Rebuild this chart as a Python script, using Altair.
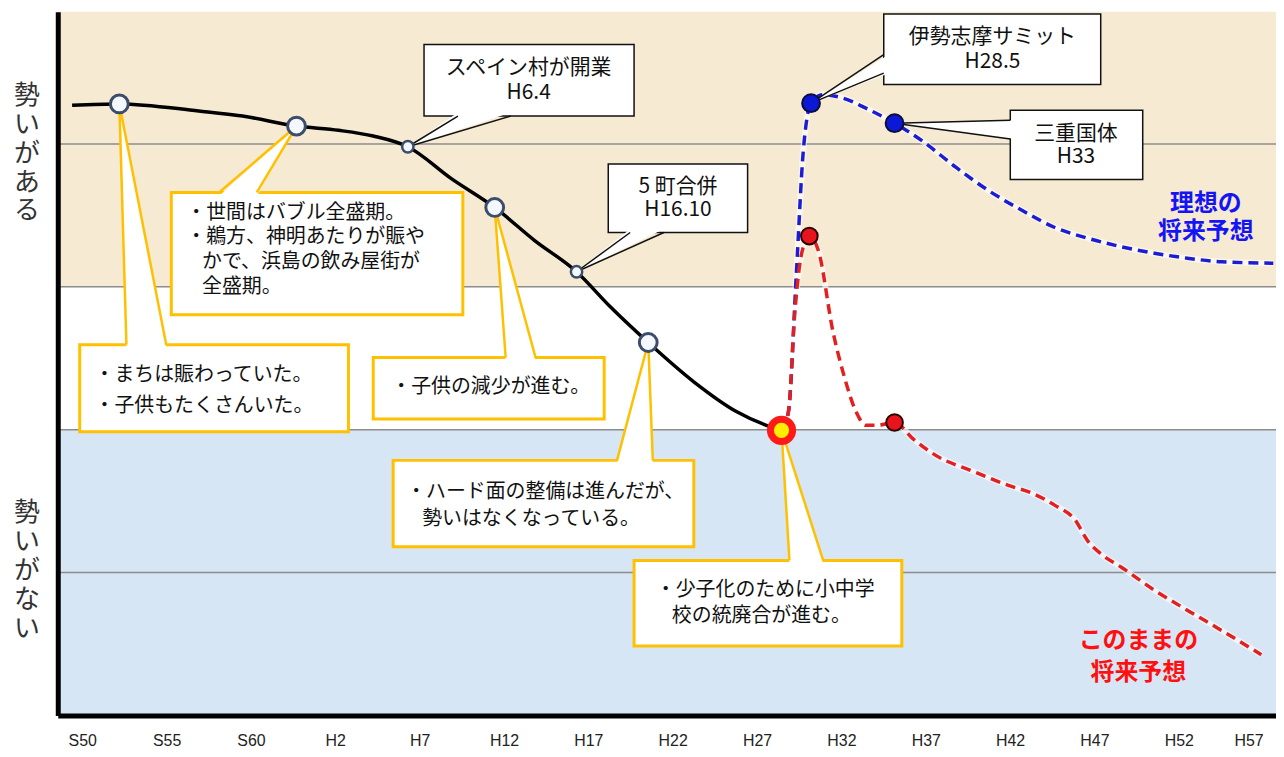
import altair as alt
import pandas as pd

JP = "Noto Sans CJK JP"
LAT = "Liberation Sans, Arial, sans-serif"

# ---- x: calendar year (S50 = 1975, H2 = 1990), y: momentum index (0 bottom .. top) ----
X0, X1 = 1973.55, 2045.76
Y0, Y1 = 0, 98.5

tick_years = [1975, 1980, 1985, 1990, 1995, 2000, 2005, 2010, 2015, 2020, 2025, 2030, 2035, 2040, 2045]
tick_labels = ["S50", "S55", "S60", "H2", "H7", "H12", "H17", "H22", "H27", "H32", "H37", "H42", "H47", "H52", "H57"]

grid_vals = [20, 40, 60, 80]

# past trend (solid black)
black_year = [1974.4, 1977.2, 1981.9, 1984.5, 1987.7, 1990.2, 1992.25, 1994.3, 1996.9, 1999.45,
              2001.8, 2004.3, 2006.3, 2008.55, 2011.25, 2013.8, 2015.55, 2016.45]
black_val = [85.4, 85.6, 84.6, 83.9, 82.5, 81.9, 81.1, 79.6, 75.1, 71.1,
             66.5, 62.1, 57.2, 52.2, 46.7, 42.5, 40.6, 39.9]

# ideal future (blue dashed)
blue_year = [2016.45, 2016.86, 2017.33, 2017.74, 2017.98, 2018.2, 2018.9, 2020.1, 2021.45, 2023.15,
             2024.8, 2026.8, 2028.7, 2030.7, 2032.65, 2034.6, 2036.6, 2038.55, 2040.5, 2042.55, 2045.6]
blue_val = [39.9, 42.5, 61.9, 79.0, 83.9, 85.7, 86.9, 86.4, 85.0, 82.9,
            80.4, 76.7, 73.5, 70.7, 68.3, 66.8, 65.6, 64.7, 64.0, 63.5, 63.3]

# as-is future (red dashed)
red_year = [2016.45, 2016.86, 2017.22, 2017.51, 2017.81, 2018.1, 2018.63, 2019.51, 2020.16, 2020.87,
            2021.46, 2022.05, 2023.15, 2024.23, 2025.59, 2027.77, 2029.9, 2031.31, 2032.66, 2033.84,
            2034.61, 2035.44, 2036.62, 2038.57, 2040.52, 2042.53, 2044.89]
red_val = [39.9, 42.5, 55.8, 62.8, 66.1, 67.1, 65.1, 53.6, 47.5, 42.5,
           40.6, 40.6, 41.0, 38.75, 36.4, 34.2, 32.2, 31.1, 29.4, 27.4,
           24.4, 22.5, 20.7, 17.5, 14.7, 11.9, 8.5]

# markers
open_year = [1977.2, 1987.7, 1999.45, 2008.55]
open_val = [85.6, 82.5, 71.1, 52.2]
small_year = [1994.3, 2004.3]
small_val = [79.6, 62.1]
now_year = [2016.45]
now_val = [39.9]
bluept_year = [2018.2, 2023.15]
bluept_val = [85.7, 82.9]
redpt_year = [2018.1, 2023.15]
redpt_val = [67.1, 41.0]

# callout boxes: x0, x1 (year), y0, y1 (value)
note_boxes = [
    (1974.85, 1990.78, 39.7, 51.9),
    (1980.28, 1997.56, 56.1, 73.2),
    (1992.25, 2005.94, 41.5, 50.1),
    (1993.43, 2011.25, 23.6, 35.7),
    (2007.71, 2023.58, 9.7, 21.7),
]
event_boxes = [
    (1995.26, 2007.71, 83.9, 93.9),
    (2006.18, 2014.44, 67.6, 77.2),
    (2022.51, 2035.37, 88.3, 98.2),
    (2030.01, 2037.86, 75.0, 84.7),
]
# pointers with horizontal base: id, base value, base x left, base x right, tip year, tip value, inward, style
h_wedges = [
    ("A", 51.9, 1977.62, 1979.98, 1977.2, 85.6, -1, "note"),
    ("B", 73.2, 1983.11, 1985.35, 1987.7, 82.5, -1, "note"),
    ("C", 50.1, 2000.10, 2001.87, 1999.45, 71.1, -1, "note"),
    ("D", 35.7, 2006.70, 2008.82, 2008.55, 52.2, -1, "note"),
    ("E", 21.7, 2016.92, 2018.92, 2016.45, 39.9, -1, "note"),
    ("1", 83.9, 1997.27, 2000.40, 1994.3, 79.6, 1, "event"),
    ("2", 67.6, 2007.48, 2009.48, 2004.3, 62.1, 1, "event"),
]
# pointers with vertical base: id, base year, base value hi, base value lo, tip year, tip value, inward
v_wedges = [
    ("3", 2022.51, 92.5, 89.9, 2018.2, 85.7, 1),
    ("4", 2030.01, 83.3, 80.7, 2023.15, 82.9, 1),
]

note_lines = ["・まちは賑わっていた。", "・子供もたくさんいた。",
              "・世間はバブル全盛期。", "・鵜方、神明あたりが賑や", "かで、浜島の飲み屋街が", "全盛期。",
              "・子供の減少が進む。",
              "・ハード面の整備は進んだが、", "勢いはなくなっている。",
              "・少子化のために小中学", "校の統廃合が進む。"]
note_x = [1975.73, 1975.73, 1981.17, 1981.17, 1982.1, 1982.1, 1993.32, 1994.2, 1995.15, 2009.0, 2009.95]
note_y = [47.6, 43.3, 70.3, 66.9, 63.5, 60.0, 46.0, 31.25, 27.5, 17.6, 13.9]

event_lines = ["スペイン村が開業", "H6.4", "5 町合併", "H16.10", "伊勢志摩サミット", "H28.5", "三重国体", "H33"]
event_x = [2001.46, 2001.46, 2010.31, 2010.31, 2028.95, 2028.95, 2033.9, 2033.9]
event_y = [90.6, 87.1, 73.9, 70.7, 95.0, 91.5, 81.4, 78.1]

ideal_lines = ["理想の", "将来予想"]
ideal_x = [2041.6, 2041.6]
ideal_y = [71.6, 67.7]
asis_lines = ["このままの", "将来予想"]
asis_x = [2037.6, 2037.6]
asis_y = [10.4, 6.0]

side_labels = ["勢\nい\nが\nあ\nる", "勢\nい\nが\nな\nい"]
side_y = [86.7, 28.3]   # value at the first character

# ---------------------------------------------------------------------------
xs = alt.Scale(domain=[X0, X1], nice=False, zero=False)
ys = alt.Scale(domain=[Y0, Y1], nice=False, zero=False)

label_expr = ("[" + ",".join("'%s'" % l for l in tick_labels) + "][indexof(["
              + ",".join(str(y) for y in tick_years) + "], datum.value)]")
xaxis = alt.Axis(values=tick_years, labelExpr=label_expr, ticks=False, grid=False, domain=True,
                 domainColor="#000", domainWidth=5, labelFont=LAT, labelFontSize=16,
                 labelColor="#222", labelPadding=17, labelFlush=15, labelOverlap=False,
                 title=None, zindex=2)
yaxis = alt.Axis(labels=False, ticks=False, grid=False, domain=True, domainColor="#000",
                 domainWidth=5, title=None, zindex=2)


def X(f, **kw):
    return alt.X(f, type="quantitative", scale=xs, axis=xaxis, **kw)


def Y(f, **kw):
    return alt.Y(f, type="quantitative", scale=ys, axis=yaxis, **kw)


layers = []

band_colors = ["#f6ead3", "#ffffff", "#d7e6f4"]
band_lo = [60, 40, 0]
band_hi = [Y1, 60, 40]
for i, c in enumerate(band_colors):
    df = pd.DataFrame({"x0": [X0], "x1": [X1], "y0": [band_lo[i]], "y1": [band_hi[i]]})
    layers.append(alt.Chart(df).mark_rect(color=c).encode(x=X("x0"), x2="x1", y=Y("y0"), y2="y1"))

layers.append(alt.Chart(pd.DataFrame({"v": grid_vals})).mark_rule(color="#8c8c8c", strokeWidth=1.5)
              .encode(y=Y("v")))

blue_df = pd.DataFrame({"year": blue_year, "val": blue_val})
red_df = pd.DataFrame({"year": red_year, "val": red_val})
for df in (blue_df, red_df):
    layers.append(alt.Chart(df).mark_line(color="white", strokeWidth=6, opacity=0.6, interpolate="monotone")
                  .encode(x=X("year"), y=Y("val")))
layers.append(alt.Chart(blue_df).mark_line(color="#1c1cd2", strokeWidth=3.5, strokeDash=[10, 6],
                                           interpolate="monotone").encode(x=X("year"), y=Y("val")))
layers.append(alt.Chart(red_df).mark_line(color="#e32020", strokeWidth=3.5, strokeDash=[10, 6],
                                          interpolate="monotone").encode(x=X("year"), y=Y("val")))
layers.append(alt.Chart(pd.DataFrame({"year": black_year, "val": black_val}))
              .mark_line(color="#000", strokeWidth=3.5, interpolate="monotone")
              .encode(x=X("year"), y=Y("val")))

# boxes
for boxes, stroke, sw in ((note_boxes, "#ffc000", 3), (event_boxes, "#111", 1.5)):
    df = pd.DataFrame(boxes, columns=["x0", "x1", "y0", "y1"])
    layers.append(alt.Chart(df).mark_rect(fill="white", stroke=stroke, strokeWidth=sw)
                  .encode(x=X("x0"), x2="x1", y=Y("y0"), y2="y1"))

# pointer fills
hrows, vrows, edges = [], [], []
for wid, yb, xl, xr, tx, ty, inward, style in h_wedges:
    hrows.append({"id": wid, "y": yb + inward * 0.5, "xa": xl, "xb": xr})
    hrows.append({"id": wid, "y": ty, "xa": tx, "xb": tx})
    edges.append({"x": xl, "y": yb, "x2": tx, "y2": ty, "style": style})
    edges.append({"x": xr, "y": yb, "x2": tx, "y2": ty, "style": style})
for wid, xb, yh, yl, tx, ty, inward in v_wedges:
    vrows.append({"id": wid, "x": xb + inward * 0.3, "ya": yh, "yb": yl})
    vrows.append({"id": wid, "x": tx, "ya": ty, "yb": ty})
    edges.append({"x": xb, "y": yh, "x2": tx, "y2": ty, "style": "event"})
    edges.append({"x": xb, "y": yl, "x2": tx, "y2": ty, "style": "event"})

layers.append(alt.Chart(pd.DataFrame(hrows)).mark_area(orient="horizontal", color="white", opacity=1)
              .encode(y=Y("y"), x=X("xa", stack=None), x2="xb", detail="id:N"))
layers.append(alt.Chart(pd.DataFrame(vrows)).mark_area(orient="vertical", color="white", opacity=1)
              .encode(x=X("x"), y=Y("ya", stack=None), y2="yb", detail="id:N"))
edge_df = pd.DataFrame(edges)
layers.append(alt.Chart(edge_df[edge_df["style"] == "note"]).mark_rule(color="#ffc000", strokeWidth=2.5)
              .encode(x=X("x"), x2="x2", y=Y("y"), y2="y2"))
layers.append(alt.Chart(edge_df[edge_df["style"] == "event"]).mark_rule(color="#111", strokeWidth=1.5)
              .encode(x=X("x"), x2="x2", y=Y("y"), y2="y2"))

# texts
layers.append(alt.Chart(pd.DataFrame({"t": note_lines, "x": note_x, "y": note_y}))
              .mark_text(font=JP, fontSize=20, color="#111", align="left", baseline="middle")
              .encode(x=X("x"), y=Y("y"), text="t:N"))
layers.append(alt.Chart(pd.DataFrame({"t": event_lines, "x": event_x, "y": event_y}))
              .mark_text(font=JP, fontSize=21, color="#111", align="center", baseline="middle")
              .encode(x=X("x"), y=Y("y"), text="t:N"))
layers.append(alt.Chart(pd.DataFrame({"t": ideal_lines, "x": ideal_x, "y": ideal_y}))
              .mark_text(font=JP, fontSize=24, fontWeight="bold", color="#1414f5", align="center", baseline="middle")
              .encode(x=X("x"), y=Y("y"), text="t:N"))
layers.append(alt.Chart(pd.DataFrame({"t": asis_lines, "x": asis_x, "y": asis_y}))
              .mark_text(font=JP, fontSize=24, fontWeight="bold", color="#ff1010", align="center", baseline="middle")
              .encode(x=X("x"), y=Y("y"), text="t:N"))
layers.append(alt.Chart(pd.DataFrame({"t": side_labels, "y": side_y}))
              .mark_text(font=JP, fontSize=26, color="#333", align="center", baseline="middle",
                         lineBreak="\n", lineHeight=29)
              .encode(x=alt.value(-31), y=Y("y"), text="t:N"))

# markers
def pts(xv, yv, **style):
    return (alt.Chart(pd.DataFrame({"year": xv, "val": yv}))
            .mark_point(shape="circle", filled=True, opacity=1, **style)
            .encode(x=X("year"), y=Y("val")))

layers.append(pts(open_year, open_val, fill="#f4f8fd", stroke="#3b4d6b", strokeWidth=3, size=320))
layers.append(pts(small_year, small_val, fill="#f4f8fd", stroke="#3b4d6b", strokeWidth=2.5, size=130))
layers.append(pts(now_year, now_val, fill="#ffee00", stroke="#ff1a1a", strokeWidth=7, size=500))
layers.append(pts(bluept_year, bluept_val, fill="#0b18d6", stroke="#0d0d3a", strokeWidth=2, size=320))
layers.append(pts(redpt_year, redpt_val, fill="#e8141c", stroke="#2a0000", strokeWidth=2, size=280))

chart = (alt.layer(*layers)
         .properties(width=1224, height=707,
                     padding={"left": 50, "top": 2, "right": 0, "bottom": 32},
                     autosize=alt.AutoSizeParams(type="none"))
         .configure_view(stroke=None))

chart.save("out.html", embed_options={"renderer": "svg", "actions": False})
